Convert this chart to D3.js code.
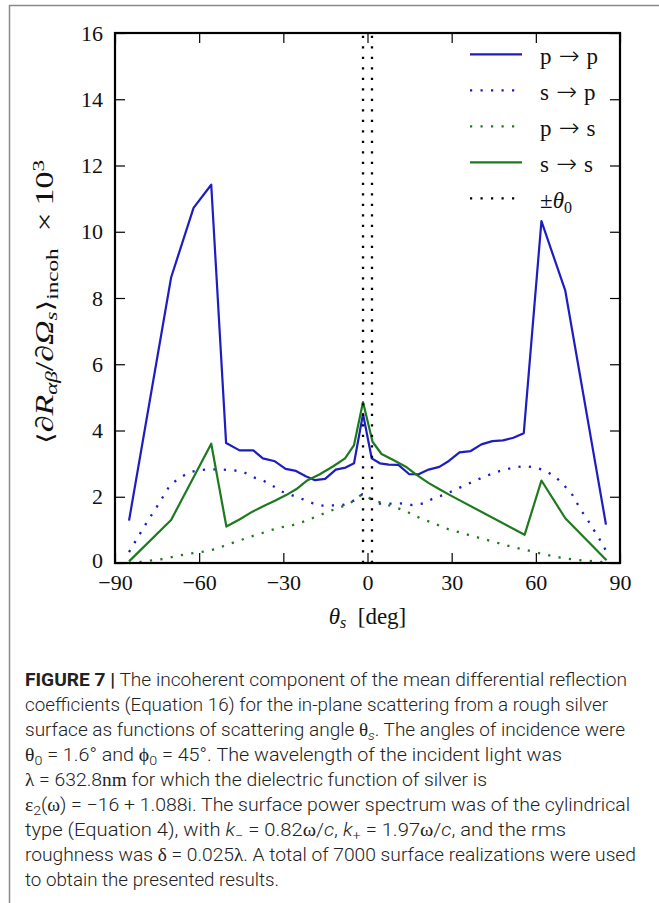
<!DOCTYPE html>
<html>
<head>
<meta charset="utf-8">
<script src="https://cdn.jsdelivr.net/npm/d3@7"></script>
<style>
body { margin: 0; background: #fff; }
svg { display: block; }
.tick text { font-family: "Liberation Serif", serif; font-size: 22px; fill: #111; }
.tick line { stroke: #000; stroke-width: 1.2; }
</style>
</head>
<body>
<svg id="fig" width="659" height="903"></svg>
<script>
// tick values
const thetaTicks = [-90, -60, -30, 0, 30, 60, 90];
const valueTicks = [0, 2, 4, 6, 8, 10, 12, 14, 16];
const thetaZero = 1.6;

// p -> p (blue, solid)
const ppTheta = [-85, -70, -62, -55.7, -50.4, -45.6, -40.7, -37.3, -33, -29.2, -25.5, -22, -18.7, -15.1, -11.3, -7.8, -4.8, -1.6,
                 1.5, 4.4, 7.6, 11, 14.9, 18.2, 21.8, 25.6, 29, 32.8, 36.8, 40.6, 44.5, 48.3, 52, 55.7, 62, 70.5, 85];
const ppValue = [1.28, 8.62, 10.72, 11.42, 3.62, 3.40, 3.40, 3.16, 3.07, 2.84, 2.78, 2.62, 2.50, 2.54, 2.82, 2.88, 3.01, 4.50,
                 3.16, 3.01, 2.97, 2.96, 2.68, 2.68, 2.82, 2.90, 3.08, 3.34, 3.38, 3.58, 3.68, 3.70, 3.78, 3.92, 10.32, 8.22, 1.16];

// s -> p (blue, dotted)
const spTheta = [-85, -82.6, -78.5, -74.3, -70.4, -67.1, -63.5, -60, -56, -52, -48, -44.5, -40.7, -37, -33.8, -30.3, -26.8, -23.2,
                 -19.4, -15.8, -11.7, -8.3, -4.8, -1.8, 1.2, 4.4, 8.6, 11.6, 16, 20, 23.4, 27, 30.5, 34, 37.5, 41, 44.5, 48,
                 52, 56, 60, 63.5, 67, 70, 73, 76, 78.4, 81.3, 84.3, 85];
const spValue = [0.33, 0.67, 1.25, 1.80, 2.35, 2.56, 2.74, 2.80, 2.83, 2.82, 2.80, 2.76, 2.59, 2.48, 2.33, 2.15, 2.04, 1.93,
                 1.80, 1.73, 1.74, 1.76, 1.89, 2.08, 1.93, 1.79, 1.79, 1.80, 1.75, 1.80, 1.95, 2.05, 2.18, 2.32, 2.45, 2.58, 2.70, 2.80,
                 2.88, 2.93, 2.88, 2.78, 2.60, 2.35, 2.06, 1.61, 1.31, 0.91, 0.50, 0.35];

// p -> s (green, dotted)
const psTheta = [-85, -80.5, -76.5, -72.8, -68.6, -64.5, -60.8, -56.7, -53.1, -49.6, -45.9, -41.9, -38.4, -34.5, -30.7, -26.8,
                 -23.1, -19.5, -16, -12.4, -8.6, -5.2, -2.2, 1, 4, 7, 10.4, 14, 17.5, 21.1, 24.7, 28.8, 35.9, 43.7, 51.4, 59.1,
                 66.8, 74.5, 82.3, 85];
const psValue = [0.0, 0.04, 0.08, 0.12, 0.20, 0.27, 0.31, 0.37, 0.45, 0.57, 0.67, 0.79, 0.88, 0.99, 1.08, 1.14,
                 1.24, 1.36, 1.48, 1.60, 1.72, 1.86, 2.06, 1.95, 1.85, 1.76, 1.67, 1.55, 1.40, 1.28, 1.16, 1.02, 0.85, 0.67, 0.49, 0.34,
                 0.19, 0.09, 0.04, 0.02];

// s -> s (green, solid)
const ssTheta = [-85, -70, -55.7, -50.3, -45.5, -41, -37, -33, -29, -25, -21.7, -17, -12.2, -8, -4.8, -1.6,
                 1.8, 5, 9.2, 14, 17.5, 21.7, 25.8, 29.4, 56, 62, 70.5, 85.2];
const ssValue = [0.05, 1.30, 3.60, 1.10, 1.32, 1.55, 1.72, 1.88, 2.05, 2.25, 2.48, 2.68, 2.92, 3.16, 3.56, 4.86,
                 3.66, 3.29, 3.11, 2.89, 2.66, 2.42, 2.22, 2.05, 0.85, 2.49, 1.35, 0.08];

const seriesNames = [['p', 'p'], ['s', 'p'], ['p', 's'], ['s', 's']];

const BLUE = '#1d1dc2';
const GREEN = '#1e7a1e';
const DOTS = '2.2,8.3';
const SERIF = '"Liberation Serif", serif';

const svg = d3.select('#fig');

// page frame (left + top rule)
svg.append('path')
    .attr('d', 'M9.5,903 V5.5 H659')
    .attr('fill', 'none')
    .attr('stroke', '#8a8a8a')
    .attr('stroke-width', 1.5);

const x = d3.scaleLinear().domain([-90, 90]).range([115, 620]);
const y = d3.scaleLinear().domain([0, 16]).range([563, 33]);

// axes, ticks pointing inward
svg.append('g')
    .attr('transform', 'translate(0,563)')
    .call(d3.axisBottom(x).tickValues(thetaTicks).tickSizeInner(-10).tickSizeOuter(0).tickPadding(11))
    .call(g => g.select('.domain').remove());
svg.append('g')
    .attr('transform', 'translate(0,33)')
    .call(d3.axisTop(x).tickValues(thetaTicks).tickSizeInner(-10).tickSizeOuter(0).tickFormat(''))
    .call(g => g.select('.domain').remove());
svg.append('g')
    .attr('transform', 'translate(115,0)')
    .call(d3.axisLeft(y).tickValues(valueTicks).tickSizeInner(-10).tickSizeOuter(0).tickPadding(12).tickFormat(d3.format('d')))
    .call(g => g.select('.domain').remove())
    .call(g => g.selectAll('.tick text').filter(d => d === 0).attr('dy', '0.22em'));
svg.append('g')
    .attr('transform', 'translate(620,0)')
    .call(d3.axisRight(y).tickValues(valueTicks).tickSizeInner(-10).tickSizeOuter(0).tickFormat(''))
    .call(g => g.select('.domain').remove());

const line = d3.line().x(d => x(d[0])).y(d => y(d[1]));

const series = [
    { theta: ppTheta, value: ppValue, color: BLUE, dash: null },
    { theta: spTheta, value: spValue, color: BLUE, dash: DOTS },
    { theta: psTheta, value: psValue, color: GREEN, dash: DOTS },
    { theta: ssTheta, value: ssValue, color: GREEN, dash: null }
];

series.forEach(s => {
    svg.append('path')
        .datum(d3.zip(s.theta, s.value))
        .attr('d', line)
        .attr('fill', 'none')
        .attr('stroke', s.color)
        .attr('stroke-width', s.dash ? 2.3 : 2.2)
        .attr('stroke-linejoin', 'round')
        .attr('stroke-dasharray', s.dash);
});

// +/- theta_0 markers
[-thetaZero, thetaZero].forEach(t => {
    svg.append('line')
        .attr('x1', x(t)).attr('x2', x(t))
        .attr('y1', y(0)).attr('y2', y(16))
        .attr('stroke', '#000')
        .attr('stroke-width', 2.3)
        .attr('stroke-dasharray', DOTS);
});

// plot box
svg.append('rect')
    .attr('x', x(-90)).attr('y', y(16))
    .attr('width', x(90) - x(-90)).attr('height', y(0) - y(16))
    .attr('fill', 'none')
    .attr('stroke', '#000')
    .attr('stroke-width', 2.2);

// legend
const legendRows = series.map((s, i) => ({ pair: seriesNames[i], color: s.color, dash: s.dash }))
    .concat([{ pair: null, color: '#000', dash: DOTS }]);
const lg = svg.append('g');
legendRows.forEach((r, i) => {
    const ly = 54.3 + i * 36;
    lg.append('line')
        .attr('x1', 470).attr('x2', 522)
        .attr('y1', ly).attr('y2', ly)
        .attr('stroke', r.color)
        .attr('stroke-width', 2.3)
        .attr('stroke-dasharray', r.dash);
    const t = lg.append('text')
        .attr('x', 540).attr('y', ly + 10)
        .attr('font-family', SERIF)
        .attr('font-size', 23)
        .attr('fill', '#111');
    if (r.pair) {
        t.append('tspan').text(r.pair[0]);
        t.append('tspan').attr('font-family', '"DejaVu Sans", sans-serif').attr('font-size', 25)
            .attr('font-weight', 300).attr('dx', 7).text('→');
        t.append('tspan').attr('dx', 7).text(r.pair[1]);
    } else {
        t.append('tspan').text('±');
        t.append('tspan').attr('font-style', 'italic').text('θ');
        t.append('tspan').attr('font-size', 16).attr('baseline-shift', -5).text('0');
    }
});

// x axis label
const xl = svg.append('text')
    .attr('x', x(0)).attr('y', 624)
    .attr('text-anchor', 'middle')
    .attr('font-family', SERIF)
    .attr('font-size', 23)
    .attr('fill', '#111');
xl.append('tspan').attr('font-style', 'italic').text('θ');
xl.append('tspan').attr('font-style', 'italic').attr('font-size', 16).attr('baseline-shift', -4).text('s');
xl.append('tspan').text('\u2002[deg]');

// y axis label
const yl = svg.append('text')
    .attr('transform', 'translate(53,' + ((y(0) + y(16)) / 2 + 4) + ') rotate(-90)')
    .attr('text-anchor', 'middle')
    .attr('font-family', SERIF)
    .attr('font-size', 25)
    .attr('fill', '#111')
    .attr('textLength', 284)
    .attr('lengthAdjust', 'spacingAndGlyphs');
yl.append('tspan').attr('font-family', '"DejaVu Serif", serif').attr('font-size', 22).text('⟨');
yl.append('tspan').attr('font-style', 'italic').text('∂R');
yl.append('tspan').attr('font-style', 'italic').attr('font-size', 17).attr('baseline-shift', -4).text('αβ');
yl.append('tspan').text('/');
yl.append('tspan').attr('font-style', 'italic').text('∂Ω');
yl.append('tspan').attr('font-style', 'italic').attr('font-size', 17).attr('baseline-shift', -4).text('s');
yl.append('tspan').attr('font-family', '"DejaVu Serif", serif').attr('font-size', 22).text('⟩');
yl.append('tspan').attr('font-size', 17).attr('baseline-shift', -5).text('incoh');
yl.append('tspan').text('\u2002×\u200910');
yl.append('tspan').attr('font-size', 17).attr('baseline-shift', 9).text('3');

// caption
const captionLines = [
    [['FIGURE 7 |', 'b'], [' The incoherent component of the mean differential reflection']],
    [['coefficients (Equation 16) for the in-plane scattering from a rough silver']],
    [['surface as functions of scattering angle '], ['θ', 'g'], ['s', 'isub'], ['. The angles of incidence were']],
    [['θ', 'g'], ['0', 'sub'], [' = 1.6° and '], ['ϕ', 'g'], ['0', 'sub'], [' = 45°. The wavelength of the incident light was']],
    [['λ', 'g'], [' = 632.8'], ['nm', 'g'], [' for which the dielectric function of silver is']],
    [['ε', 'g'], ['2', 'sub'], ['('], ['ω', 'g'], [') = −16 + 1.088i. The surface power spectrum was of the cylindrical']],
    [['type (Equation 4), with '], ['k', 'i'], ['−', 'sub'], [' = 0.82'], ['ω', 'g'], ['/'], ['c', 'i'], [', '], ['k', 'i'], ['+', 'sub'],
     [' = 1.97'], ['ω', 'g'], ['/'], ['c', 'i'], [', and the rms']],
    [['roughness was '], ['δ', 'g'], [' = 0.025'], ['λ', 'g'], ['. A total of 7000 surface realizations were used']],
    [['to obtain the presented results.']]
];
const captionEnds = [627, 608, 625, 562, 487, 630, 566, 636, 279];

captionLines.forEach((segs, i) => {
    const t = svg.append('text')
        .attr('x', 25).attr('y', 686 + i * 25)
        .attr('font-family', 'Roboto, "Liberation Sans", sans-serif')
        .attr('font-size', 18)
        .attr('font-weight', 300)
        .attr('fill', '#222')
        .attr('textLength', captionEnds[i] - 25)
        .attr('lengthAdjust', 'spacingAndGlyphs');
    segs.forEach(([txt, kind]) => {
        const ts = t.append('tspan').text(txt);
        if (kind === 'b') ts.attr('font-weight', 'bold');
        if (kind === 'g') ts.attr('font-family', SERIF).attr('font-weight', 400);
        if (kind === 'i') ts.attr('font-style', 'italic');
        if (kind === 'sub' || kind === 'isub') {
            ts.attr('font-size', 13).attr('baseline-shift', -4);
            if (kind === 'isub') ts.attr('font-style', 'italic');
        }
    });
});
</script>
</body>
</html>
